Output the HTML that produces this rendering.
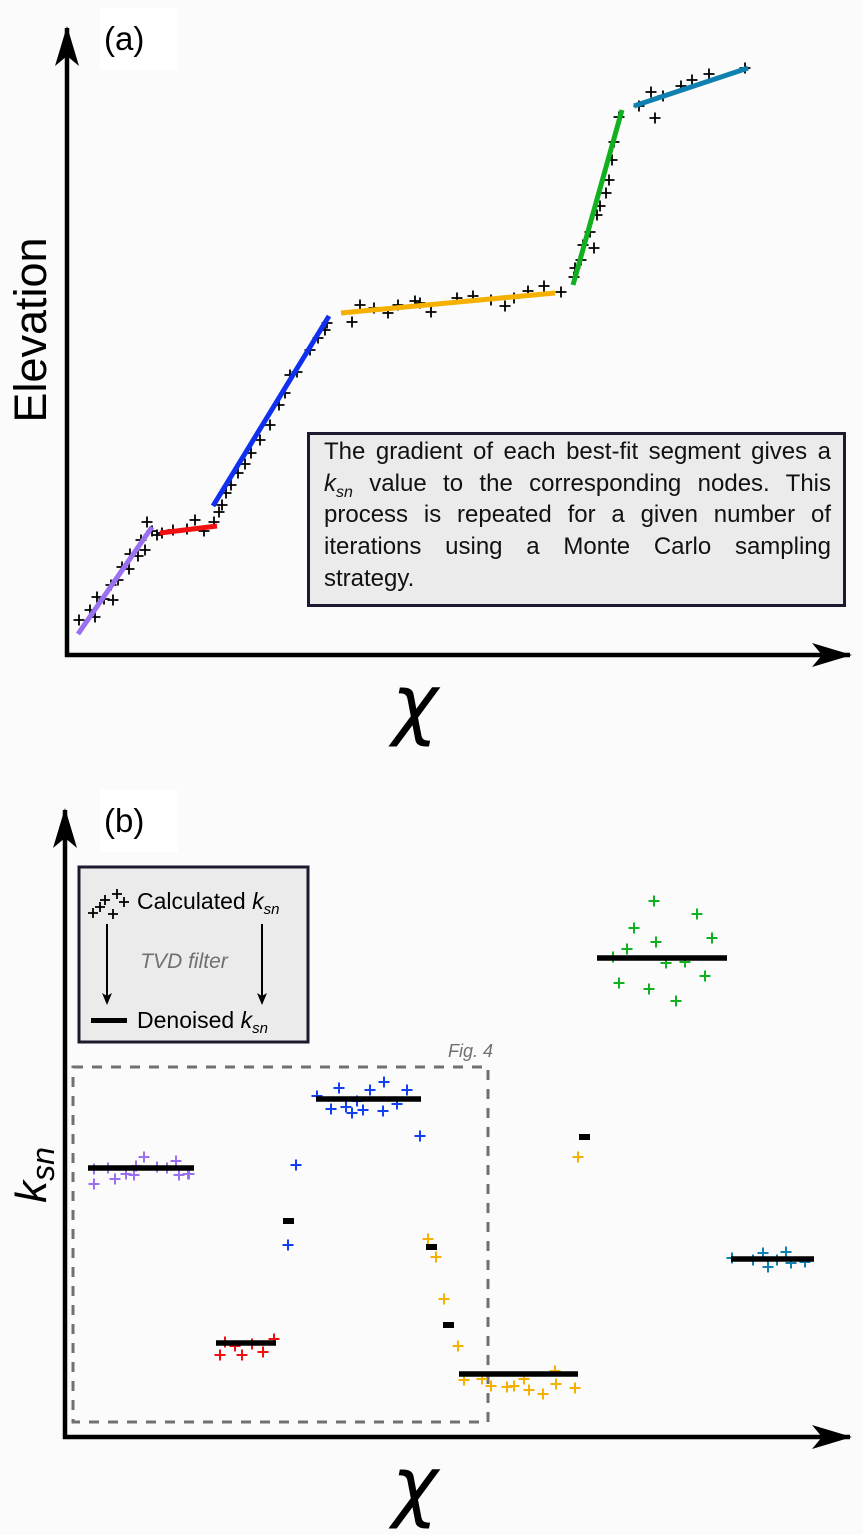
<!DOCTYPE html>
<html><head><meta charset="utf-8">
<style>
html,body{margin:0;padding:0;background:#fbfbfb;}
#wrap{position:relative;width:863px;height:1535px;overflow:hidden;font-family:"Liberation Sans",sans-serif;}
svg{position:absolute;left:0;top:0;}
#note{position:absolute;left:307px;top:432px;width:507px;height:168px;background:#ebebeb;border:3px solid #1c1a2e;padding:1px 12px 0 14px;font-size:24px;line-height:31.7px;text-align:justify;color:#111;}
#note sub{line-height:0;font-size:16px}
</style></head><body>
<div id="wrap">
<svg id="fig" width="863" height="1535" viewBox="0 0 863 1535">
<defs>
<marker id="arr" markerWidth="12" markerHeight="10" refX="10" refY="5" orient="auto" markerUnits="userSpaceOnUse" viewBox="0 0 12 10"><path d="M0,0 L12,5 L0,10 L3,5 Z" fill="#000"/></marker>
<marker id="arrBig" markerWidth="40" markerHeight="24" refX="38" refY="12" orient="auto" markerUnits="userSpaceOnUse" viewBox="0 0 40 24"><path d="M0,0 L40,12 L0,24 L10,12 Z" fill="#000"/></marker>
</defs>
<g id="pa"></g>
<g id="pb"></g>
</svg>
<div id="note">The gradient of each best-fit segment gives a <i>k<sub>sn</sub></i> value to the corresponding nodes. This process is repeated for a given number of iterations using a Monte Carlo sampling strategy.</div>
</div>
<script>
// ---- Panel (a) data: chi / elevation (schematic units) ----
const aSegNames = ['purple','red','blue','orange','green','teal'];
const aSegColors = ['#9a6ff0','#f01010','#1030f0','#f5b000','#10b020','#1080b0'];
const aSegX1 = [11,93,146,274,506,567];
const aSegY1 = [21,122,149,342,370,549];
const aSegX2 = [85,150,262,488,555,681];
const aSegY2 = [128,129,339,362,545,587];
const aPtsChi = [12,23,28,30,37,46,44,51,55,62,63,71,78,74,85,80,90,95,106,120,128,137,147,152,155,159,164,171,178,184,193,203,212,218,223,230,243,251,258,260,285,293,307,321,331,348,353,364,390,406,424,438,447,461,477,494,507,508,514,516,523,527,530,533,542,539,545,547,552,572,584,588,596,614,625,642,678];
const aPtsElev = [35,45,38,58,56,55,70,75,88,86,101,99,105,115,124,133,120,122,125,126,135,124,133,143,150,162,170,182,191,202,215,230,250,262,280,283,305,317,325,332,333,350,347,342,350,354,352,343,357,359,355,349,357,364,369,363,378,387,395,410,423,407,440,449,475,462,495,513,538,549,563,537,559,569,575,581,587];

// ---- Panel (b) data: chi / ksn (schematic units) ----
const bLineX1 = [23,151,251,394,532,666];
const bLineX2 = [129,211,356,513,662,749];
const bLineK = [269,94,338,63,479,178];
const bLineColors = ['#9a6ff0','#f01010','#1040f0','#f5b000','#10b020','#1080b0'];
const bBarX = [223,366,383,519];
const bBarK = [216,190,112,300];
const bPtsChi = [29,50,69,79,111,123,114,102,61,71,43,92,124,29, 155,160,177,187,198,209,170, 252,274,266,281,287,298,305,319,318,332,342,292,355,231,223, 363,371,379,393,399,417,426,442,449,464,478,490,491,510,459,513, 589,632,569,591,647,562,548,601,620,640,554,584,611, 667,688,698,703,712,721,726,740];
const bPtsK = [253,258,262,280,276,263,262,269,263,271,269,270,263,268, 82,95,82,93,85,98,91, 341,349,328,330,324,327,347,355,326,333,347,336,301,272,192, 198,180,138,91,57,58,51,50,51,47,43,66,53,49,58,280, 536,523,509,495,499,488,480,474,475,461,454,448,436, 179,177,184,170,177,185,174,175];
const bPtColorIdx = [0,0,0,0,0,0,0,0,0,0,0,0,0,0, 1,1,1,1,1,1,1, 2,2,2,2,2,2,2,2,2,2,2,2,2,2,2, 3,3,3,3,3,3,3,3,3,3,3,3,3,3,3,3, 4,4,4,4,4,4,4,4,4,4,4,4,4, 5,5,5,5,5,5,5,5];

const NS='http://www.w3.org/2000/svg';
function mk(parent,tag,attrs){const e=document.createElementNS(NS,tag);for(const k in attrs)e.setAttribute(k,attrs[k]);parent.appendChild(e);return e;}
function plus(parent,cx,cy,s,col,w){
  return mk(parent,'path',{d:`M${cx-s},${cy}H${cx+s}M${cx},${cy-s}V${cy+s}`,stroke:col,'stroke-width':w,fill:'none'});
}
const xa=v=>67+v, ya=v=>655-v;
const xb=v=>65+v, yb=v=>1437-v;

// Panel A
const pa=document.getElementById('pa');
let e;
e=mk(pa,'rect',{x:100,y:8,width:78,height:62,fill:'#fff'});


e=mk(pa,'text',{x:104,y:50,'font-size':33,'font-family':'Liberation Sans, sans-serif',fill:'#000'});e.textContent='(a)';


e=mk(pa,'line',{x1:67,y1:657,x2:67,y2:28,stroke:'#000','stroke-width':4.5,'marker-end':'url(#arrBig)'});


e=mk(pa,'line',{x1:65,y1:655,x2:850,y2:655,stroke:'#000','stroke-width':4.5,'marker-end':'url(#arrBig)'});


e=mk(pa,'text',{x:0,y:0,transform:'translate(46,330) rotate(-90)','text-anchor':'middle','font-size':45,'font-family':'Liberation Sans, sans-serif'});e.textContent='Elevation';


e=mk(pa,'text',{x:415,y:730,'text-anchor':'middle','font-size':78,'font-style':'italic','font-family':'DejaVu Sans, sans-serif'});e.textContent='χ';


for(let i=0;i<aPtsChi.length;i++){
  e=plus(pa,xa(aPtsChi[i]),ya(aPtsElev[i]),5.5,'#000',1.8);
  
  
}
for(let i=0;i<aSegNames.length;i++){
  e=mk(pa,'line',{x1:xa(aSegX1[i]),y1:ya(aSegY1[i]),x2:xa(aSegX2[i]),y2:ya(aSegY2[i]),stroke:aSegColors[i],'stroke-width':5});
  
  
}

// Panel B
const pb=document.getElementById('pb');
e=mk(pb,'rect',{x:100,y:790,width:78,height:62,fill:'#fff'});


e=mk(pb,'text',{x:104,y:832,'font-size':33,'font-family':'Liberation Sans, sans-serif'});e.textContent='(b)';


e=mk(pb,'line',{x1:65,y1:1439,x2:65,y2:810,stroke:'#000','stroke-width':4.5,'marker-end':'url(#arrBig)'});


e=mk(pb,'line',{x1:63,y1:1437,x2:850,y2:1437,stroke:'#000','stroke-width':4.5,'marker-end':'url(#arrBig)'});


e=mk(pb,'text',{x:0,y:0,transform:'translate(46,1175) rotate(-90)','text-anchor':'middle','font-size':44,'font-style':'italic','font-family':'Liberation Sans, sans-serif'});
e.innerHTML='k<tspan font-size="32" dy="8">sn</tspan>';


e=mk(pb,'text',{x:415,y:1512,'text-anchor':'middle','font-size':78,'font-style':'italic','font-family':'DejaVu Sans, sans-serif'});e.textContent='χ';


e=mk(pb,'rect',{x:73,y:1067,width:415,height:355,fill:'none',stroke:'#707070','stroke-width':3,'stroke-dasharray':'10 9'});


e=mk(pb,'text',{x:448,y:1057,'font-size':18,'font-style':'italic','fill':'#707070','font-family':'Liberation Sans, sans-serif'});e.textContent='Fig. 4';


for(let i=0;i<bPtsChi.length;i++){
  e=plus(pb,xb(bPtsChi[i]),yb(bPtsK[i]),5.5,bLineColors[bPtColorIdx[i]],2);
  
  
}
for(let i=0;i<bLineX1.length;i++){
  e=mk(pb,'line',{x1:xb(bLineX1[i]),y1:yb(bLineK[i]),x2:xb(bLineX2[i]),y2:yb(bLineK[i]),stroke:'#000','stroke-width':5.5});
  
  
}
for(let i=0;i<bBarX.length;i++){
  e=mk(pb,'rect',{x:xb(bBarX[i])-5,y:yb(bBarK[i])-3,width:11,height:6,fill:'#000'});
  
  
}
// Legend
const lg=mk(pb,'g',{});


mk(lg,'rect',{x:79,y:867,width:229,height:175,fill:'#ebebeb',stroke:'#1c1a2e','stroke-width':3});
[[93,913],[105,900],[113,914],[117,894],[124,902],[100,907]].forEach(p=>plus(lg,p[0],p[1],5,'#000',1.8));
e=mk(lg,'text',{x:137,y:909,'font-size':23,'font-family':'Liberation Sans, sans-serif'});
e.innerHTML='Calculated <tspan font-style="italic">k</tspan><tspan font-style="italic" font-size="15" dy="5">sn</tspan>';


e=mk(lg,'line',{x1:107,y1:924,x2:107,y2:1003,stroke:'#000','stroke-width':2,'marker-end':'url(#arr)'});
e=mk(lg,'line',{x1:262,y1:924,x2:262,y2:1003,stroke:'#000','stroke-width':2,'marker-end':'url(#arr)'});
e=mk(lg,'text',{x:184,y:968,'text-anchor':'middle','font-size':21,'font-style':'italic','fill':'#707070','font-family':'Liberation Sans, sans-serif'});e.textContent='TVD filter';


mk(lg,'rect',{x:91,y:1018,width:36,height:5,fill:'#000'});
e=mk(lg,'text',{x:137,y:1028,'font-size':23,'font-family':'Liberation Sans, sans-serif'});
e.innerHTML='Denoised <tspan font-style="italic">k</tspan><tspan font-style="italic" font-size="15" dy="5">sn</tspan>';


</script>
</body></html>
